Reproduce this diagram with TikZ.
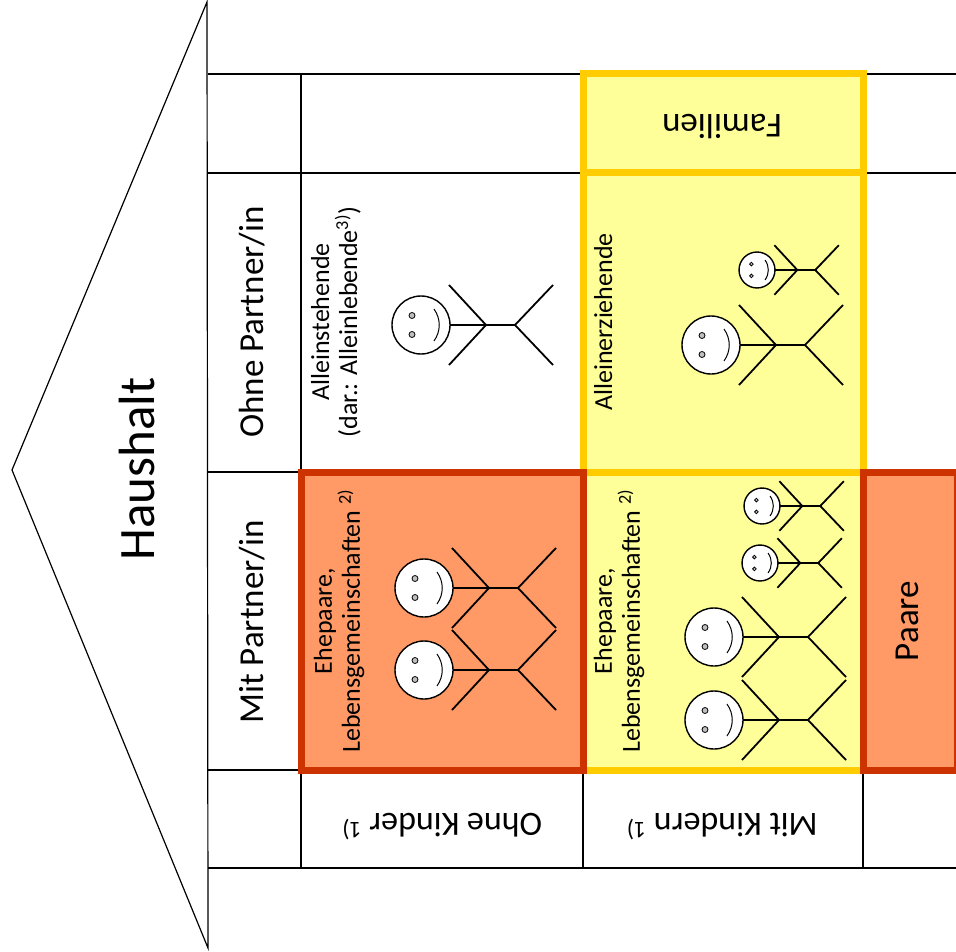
\documentclass[tikz,border=0pt]{standalone}
\usepackage{fontspec}
\setmainfont{Carlito}

\definecolor{paarfill}{HTML}{FF9966}
\definecolor{paarline}{HTML}{CC3300}
\definecolor{famfill}{HTML}{FFFF99}
\definecolor{famline}{HTML}{FFCC00}
\definecolor{eyegray}{HTML}{BFBFBF}

\begin{document}
\begin{tikzpicture}[
				x = 1pt, y = -1pt, % one unit per pixel, y downwards
				gridline/.style = {line width=1.2pt}, % thin table lines
				paarcell/.style = {draw=paarline, fill=paarfill, line width=7pt},
				famcell/.style = {draw=famline, fill=famfill, line width=7pt},
				limb/.style = {line width=1.8pt},
				face/.style = {draw, fill=white, line width=1.4pt},
				eye/.style = {draw, fill=eyegray, line width=0.8pt},
				bigtext/.style = {font=\fontsize{51}{60}\selectfont},
				headtext/.style = {font=\fontsize{35}{42}\selectfont},
				smalltext/.style = {font=\fontsize{26}{28}\selectfont, align=center},
				stickman/.pic = {
					\begin{scope}[scale=#1]
					\draw[limb] (28,-40) -- (65,0) -- (28,40);
					\draw[limb] (29,0) -- (94,0);
					\draw[limb] (132,-40) -- (94,0) -- (132,40);
					\draw[face] (0,0) circle[radius=29pt];
					\draw[eye] (-9,-9.5) circle[radius=3pt] (-9,9.5) circle[radius=3pt];
					\draw[line width=1pt] (13,-16) .. controls (20,-6) and (20,6) .. (13,16);
					\end{scope}
				}
				]
				
				\useasboundingbox (0,0) rectangle (956,952);
				
				% arrow and table lines
				\draw[gridline] (207,2) -- (12,470) -- (208,948) -- cycle;
				\draw[gridline] (208,74) -- (956,74);
				\draw[gridline] (208,173) -- (956,173);
				\draw[gridline] (208,472) -- (301,472);
				\draw[gridline] (208,770) -- (956,770);
				\draw[gridline] (208,868) -- (956,868);
				\draw[gridline] (301,74) -- (301,868);
				\draw[gridline] (583,74) -- (583,868);
				\draw[gridline] (863,74) -- (863,868);
				
				% Familien
				\draw[famcell] (583,74) rectangle (863,173);
				\draw[famcell] (583,173) rectangle (863,472);
				\draw[famcell] (583,472) rectangle (863,770);
				
				% Paare
				\draw[paarcell] (301,472) rectangle (583,770);
				\draw[paarcell] (863,472) rectangle (957,770);
				
				\node (haus) [bigtext, rotate=90, anchor=base] at (154,469) {Haushalt};
				\node (ohnepartner) [headtext, rotate=90, anchor=base] at (263,322) {Ohne Partner/in};
				\node (mitpartner) [headtext, rotate=90, anchor=base] at (263,622) {Mit Partner/in};
				\node (familien) [headtext, rotate=180, anchor=base] at (722,115) {Familien};
				\node (paare) [headtext, rotate=90, anchor=base] at (918,621) {Paare};
				\node (ohnekinder) [headtext, font=\fontsize{34}{40}\selectfont, rotate=180, anchor=base] at (442,813) {Ohne Kinder \textsuperscript{1)}};
				\node (mitkindern) [headtext, font=\fontsize{34}{40}\selectfont, rotate=180, anchor=base] at (722,813) {Mit Kindern \textsuperscript{1)}};
				
				\node (alleinstehend) [smalltext, rotate=90] at (336,322) {Alleinstehende\\(dar.: Alleinlebende\textsuperscript{3)})};
				\node (alleinerziehend) [smalltext, rotate=90, anchor=base] at (612,322) {Alleinerziehende};
				\node (ehepaarohne) [smalltext, rotate=90] at (339,621) {Ehepaare,\\Lebensgemeinschaften \textsuperscript{2)}};
				\node (ehepaarmit) [smalltext, rotate=90] at (619,621) {Ehepaare,\\Lebensgemeinschaften \textsuperscript{2)}};
				
				\pic at (421,325) {stickman=1};
				\pic at (424,588) {stickman=1};
				\pic at (424,670) {stickman=1};
				\pic at (711,345) {stickman=1};
				\pic at (757,270) {stickman=0.62};
				\pic at (714,637) {stickman=1};
				\pic at (714,720) {stickman=1};
				\pic at (762,506) {stickman=0.62};
				\pic at (760,563) {stickman=0.62};
				
			\end{tikzpicture}
\end{document}
